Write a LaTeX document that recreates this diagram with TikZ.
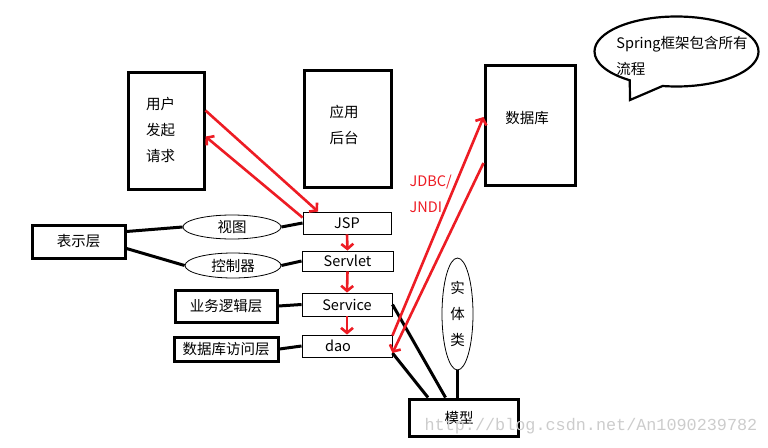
\documentclass[tikz,border=0pt]{standalone}
\usepackage{fontspec}
\setmainfont{Noto Sans CJK SC}
\newfontfamily\markfont{Liberation Mono}
\usetikzlibrary{arrows.meta,shapes.geometric,shapes.callouts}
\definecolor{paintred}{RGB}{237,28,36}
\tikzset{
	every node/.style={font=\fontsize{14.5pt}{26pt}\selectfont},
	box/.style={draw,rectangle,align=center,line width=3pt},
	thinbox/.style={draw,rectangle,align=center,line width=0.9pt},
	oval/.style={draw,ellipse,align=center,line width=0.8pt,inner sep=0pt},
	link/.style={line width=3pt},
	req/.style={paintred,line width=2.6pt,-{Straight Barb[length=5pt,width=12pt]}}
}
\begin{document}
\begin{tikzpicture}[x=1pt,y=-1pt]
	\useasboundingbox (0,0) rectangle (768,447);
	% top row
	\node[box,minimum width=76pt,minimum height=117pt] (user) at (166,130.5) {};
	\node[align=left] (usertxt) at (160.5,129.5) {用户\\发起\\请求};
	\node[box,minimum width=87pt,minimum height=117pt] (app) at (347.5,128.5) {};
	\node[align=left] (apptxt) at (344,124.5) {应用\\后台};
	\node[box,minimum width=90pt,minimum height=120pt] (db) at (530,125) {};
	\node (dbtxt) at (527,118) {数据库};
	\node[ellipse callout,draw,line width=2.2pt,minimum width=164pt,minimum height=70pt,
		callout absolute pointer={(630,100)},callout pointer arc=25] (bubble) at (676.5,51.5) {};
	\node[align=left] (bubbletxt) at (682,56) {Spring框架包含所有\\流程};
	% layers
	\node[thinbox,minimum width=88pt,minimum height=22pt] (jsp) at (347,223) {JSP};
	\node[thinbox,minimum width=91pt,minimum height=20pt] (servlet) at (347.5,261) {Servlet};
	\node[thinbox,minimum width=90pt,minimum height=23pt] (service) at (347,304.5) {Service};
	\node[thinbox,minimum width=90pt,minimum height=22pt] (dao) at (347,346) {dao\hspace{18pt}};
	\node[oval,minimum width=98pt,minimum height=24pt] (view) at (232,227) {视图};
	\node[oval,minimum width=96pt,minimum height=25pt] (ctrl) at (233,265.5) {控制器};
	\node[box,minimum width=93pt,minimum height=33pt] (pres) at (78.5,241.5) {表示层};
	\node[box,minimum width=102pt,minimum height=32pt] (biz) at (226,306) {业务逻辑层};
	\node[box,minimum width=104pt,minimum height=24pt,inner sep=0pt] (dal) at (226,349) {\raisebox{-3pt}{数据库访问层}};
	\node[oval,minimum width=31pt,minimum height=112pt] (entity) at (457.5,314) {实\\体\\类};
	\node[box,minimum width=109pt,minimum height=37pt] (model) at (463.5,417.5) {模型\hspace{9pt}};
	% black links
	\draw[link] ([yshift=10pt]pres.east) -- (view.west);
	\draw[link] ([yshift=-7pt]pres.east) -- (ctrl.west);
	\draw[link] (view.east) -- (jsp.west);
	\draw[link] (ctrl.east) -- (servlet.west);
	\draw[link] (biz.east) -- (service.west);
	\draw[link] (dal.east) -- (dao.west);
	\draw[link] (service.east) -- ([xshift=-18pt]model.north);
	\draw[link] ([yshift=-7pt]dao.east) -- ([xshift=-35.5pt]model.north);
	\draw[link] (entity.south) -- (entity.south |- model.north);
	% red request flow
	\draw[req] ([yshift=20pt]user.east) -- ([xshift=-29pt]jsp.north);
	\draw[req] ([yshift=-6pt]jsp.north west) -- ([yshift=-6pt]user.east);
	\draw[req] (jsp.south) -- (servlet.north);
	\draw[req] (servlet.south) -- (service.north);
	\draw[req] (service.south) -- (dao.north);
	\draw[req] ([yshift=-1pt]dao.north east) -- ([yshift=8pt]db.west);
	\draw[req] ([yshift=-38pt]db.west) -- ([yshift=-7pt]dao.east);
	\node[paintred,align=left,anchor=west] (jdbc) at (406,194) {JDBC/\\JNDI};
	\node[text=black!20,font=\fontsize{16.8pt}{20pt}\markfont] (mark) at (591,426) {http://blog.csdn.net/An1090239782};
\end{tikzpicture}
\end{document}
